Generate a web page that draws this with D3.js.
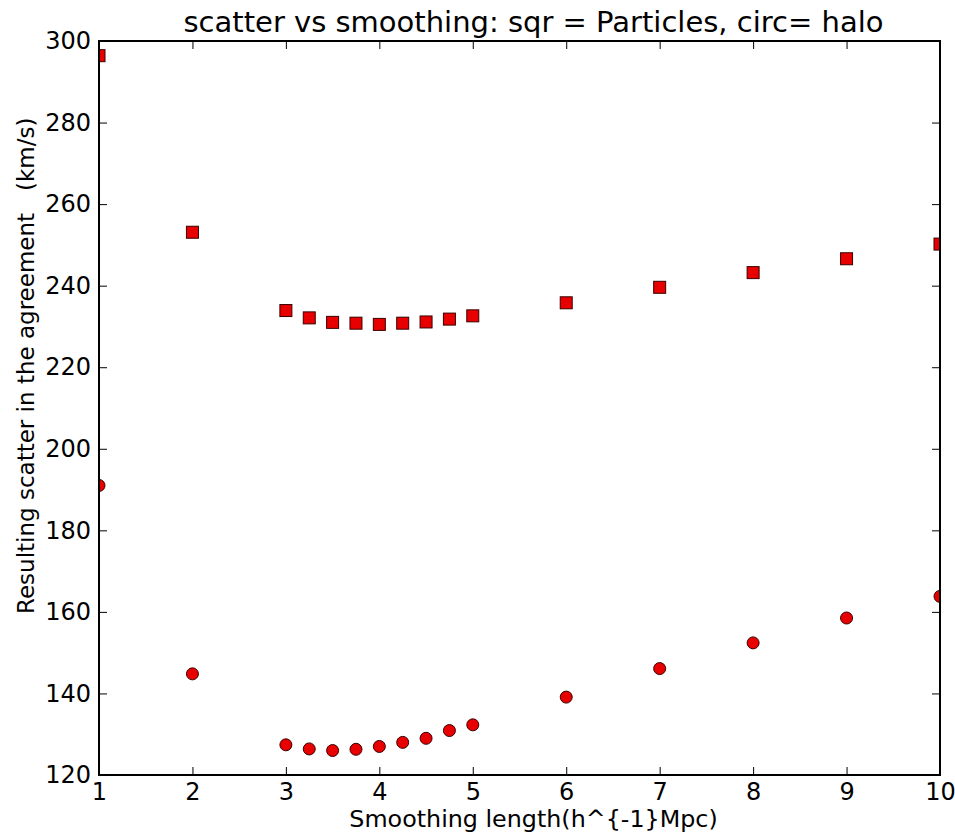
<!DOCTYPE html>
<html>
<head>
<meta charset="utf-8">
<script src="https://cdn.jsdelivr.net/npm/d3@7"></script>
<style>
  body { margin: 0; background: #fff; }
  text { font-family: "DejaVu Sans", sans-serif; fill: #000; }
</style>
</head>
<body>
<div id="chart"></div>
<script>
// Data
var smoothing = [1, 2, 3, 3.25, 3.5, 3.75, 4, 4.25, 4.5, 4.75, 5, 6, 7, 8, 9, 10];
var particles = [296.4, 253.1, 233.9, 232.1, 231.0, 230.8, 230.5, 230.8, 231.1, 231.8, 232.6, 235.8, 239.6, 243.2, 246.6, 250.2];
var halo = [191.0, 144.8, 127.4, 126.4, 126.0, 126.3, 127.0, 128.0, 129.0, 130.9, 132.3, 139.1, 146.1, 152.4, 158.5, 163.8];
var xTicks = [1, 2, 3, 4, 5, 6, 7, 8, 9, 10];
var yTicks = [120, 140, 160, 180, 200, 220, 240, 260, 280, 300];

// Set Up Space
var svgWidth = 955;
var svgHeight = 836;
var margin = { top: 41, right: 15, bottom: 61, left: 99 };
var width = svgWidth - margin.left - margin.right;
var height = svgHeight - margin.top - margin.bottom;

var svg = d3.select("#chart")
  .append("svg")
  .attr("width", svgWidth)
  .attr("height", svgHeight);

var chartGroup = svg.append("g")
  .attr("transform", `translate(${margin.left}, ${margin.top})`);

// Scaling
var xScale = d3.scaleLinear().domain([1, 10]).range([0, width]);
var yScale = d3.scaleLinear().domain([120, 300]).range([height, 0]);

chartGroup.append("clipPath")
  .attr("id", "plotClip")
  .append("rect")
  .attr("width", width)
  .attr("height", height);

// Points
var pts = chartGroup.append("g").attr("clip-path", "url(#plotClip)");
var ms = 12;

pts.selectAll("rect.sq")
  .data(smoothing)
  .enter()
  .append("rect")
    .attr("class", "sq")
    .attr("x", (d, i) => xScale(d) - ms / 2)
    .attr("y", (d, i) => yScale(particles[i]) - ms / 2)
    .attr("width", ms)
    .attr("height", ms)
    .style("fill", "#e80000")
    .style("stroke", "#3a0000")
    .style("stroke-width", 1);

pts.selectAll("circle")
  .data(smoothing)
  .enter()
  .append("circle")
    .attr("cx", (d, i) => xScale(d))
    .attr("cy", (d, i) => yScale(halo[i]))
    .attr("r", ms / 2)
    .style("fill", "#e80000")
    .style("stroke", "#3a0000")
    .style("stroke-width", 1);

// Axes: inward ticks on all four sides
var tickLen = 8;
function styleAxis(g) {
  g.select(".domain").remove();
  g.selectAll(".tick line").attr("stroke", "#000").attr("stroke-width", 1);
  g.selectAll(".tick text").style("font-size", "24px").style("font-family", "DejaVu Sans");
}

chartGroup.append("g")
  .attr("transform", `translate(0, ${height})`)
  .call(d3.axisBottom(xScale).tickValues(xTicks).tickFormat(d3.format("d"))
    .tickSizeInner(-tickLen).tickSizeOuter(0).tickPadding(8))
  .call(styleAxis);

chartGroup.append("g")
  .call(d3.axisTop(xScale).tickValues(xTicks).tickFormat("")
    .tickSizeInner(-tickLen).tickSizeOuter(0))
  .call(styleAxis);

chartGroup.append("g")
  .call(d3.axisLeft(yScale).tickValues(yTicks).tickFormat(d3.format("d"))
    .tickSizeInner(-tickLen).tickSizeOuter(0).tickPadding(8))
  .call(styleAxis);

chartGroup.append("g")
  .attr("transform", `translate(${width}, 0)`)
  .call(d3.axisRight(yScale).tickValues(yTicks).tickFormat("")
    .tickSizeInner(-tickLen).tickSizeOuter(0))
  .call(styleAxis);

// Frame
chartGroup.append("rect")
  .attr("width", width)
  .attr("height", height)
  .style("fill", "none")
  .style("stroke", "#000")
  .style("stroke-width", 2);

// Labels
chartGroup.append("text")
  .attr("x", width / 2 + 14)
  .attr("y", -9.5)
  .attr("text-anchor", "middle")
  .style("font-size", "29px")
  .text("scatter vs smoothing: sqr = Particles, circ= halo");

chartGroup.append("text")
  .attr("x", width / 2 + 14)
  .attr("y", height + 52)
  .attr("text-anchor", "middle")
  .style("font-size", "23.8px")
  .text("Smoothing length(h^{-1}Mpc)");

chartGroup.append("text")
  .attr("transform", "rotate(-90)")
  .attr("x", -(614 - margin.top))
  .attr("y", -margin.left + 34)
  .attr("text-anchor", "start")
  .attr("xml:space", "preserve")
  .style("font-size", "23px")
  .text("Resulting scatter in the agreement   (km/s)");
</script>
</body>
</html>
